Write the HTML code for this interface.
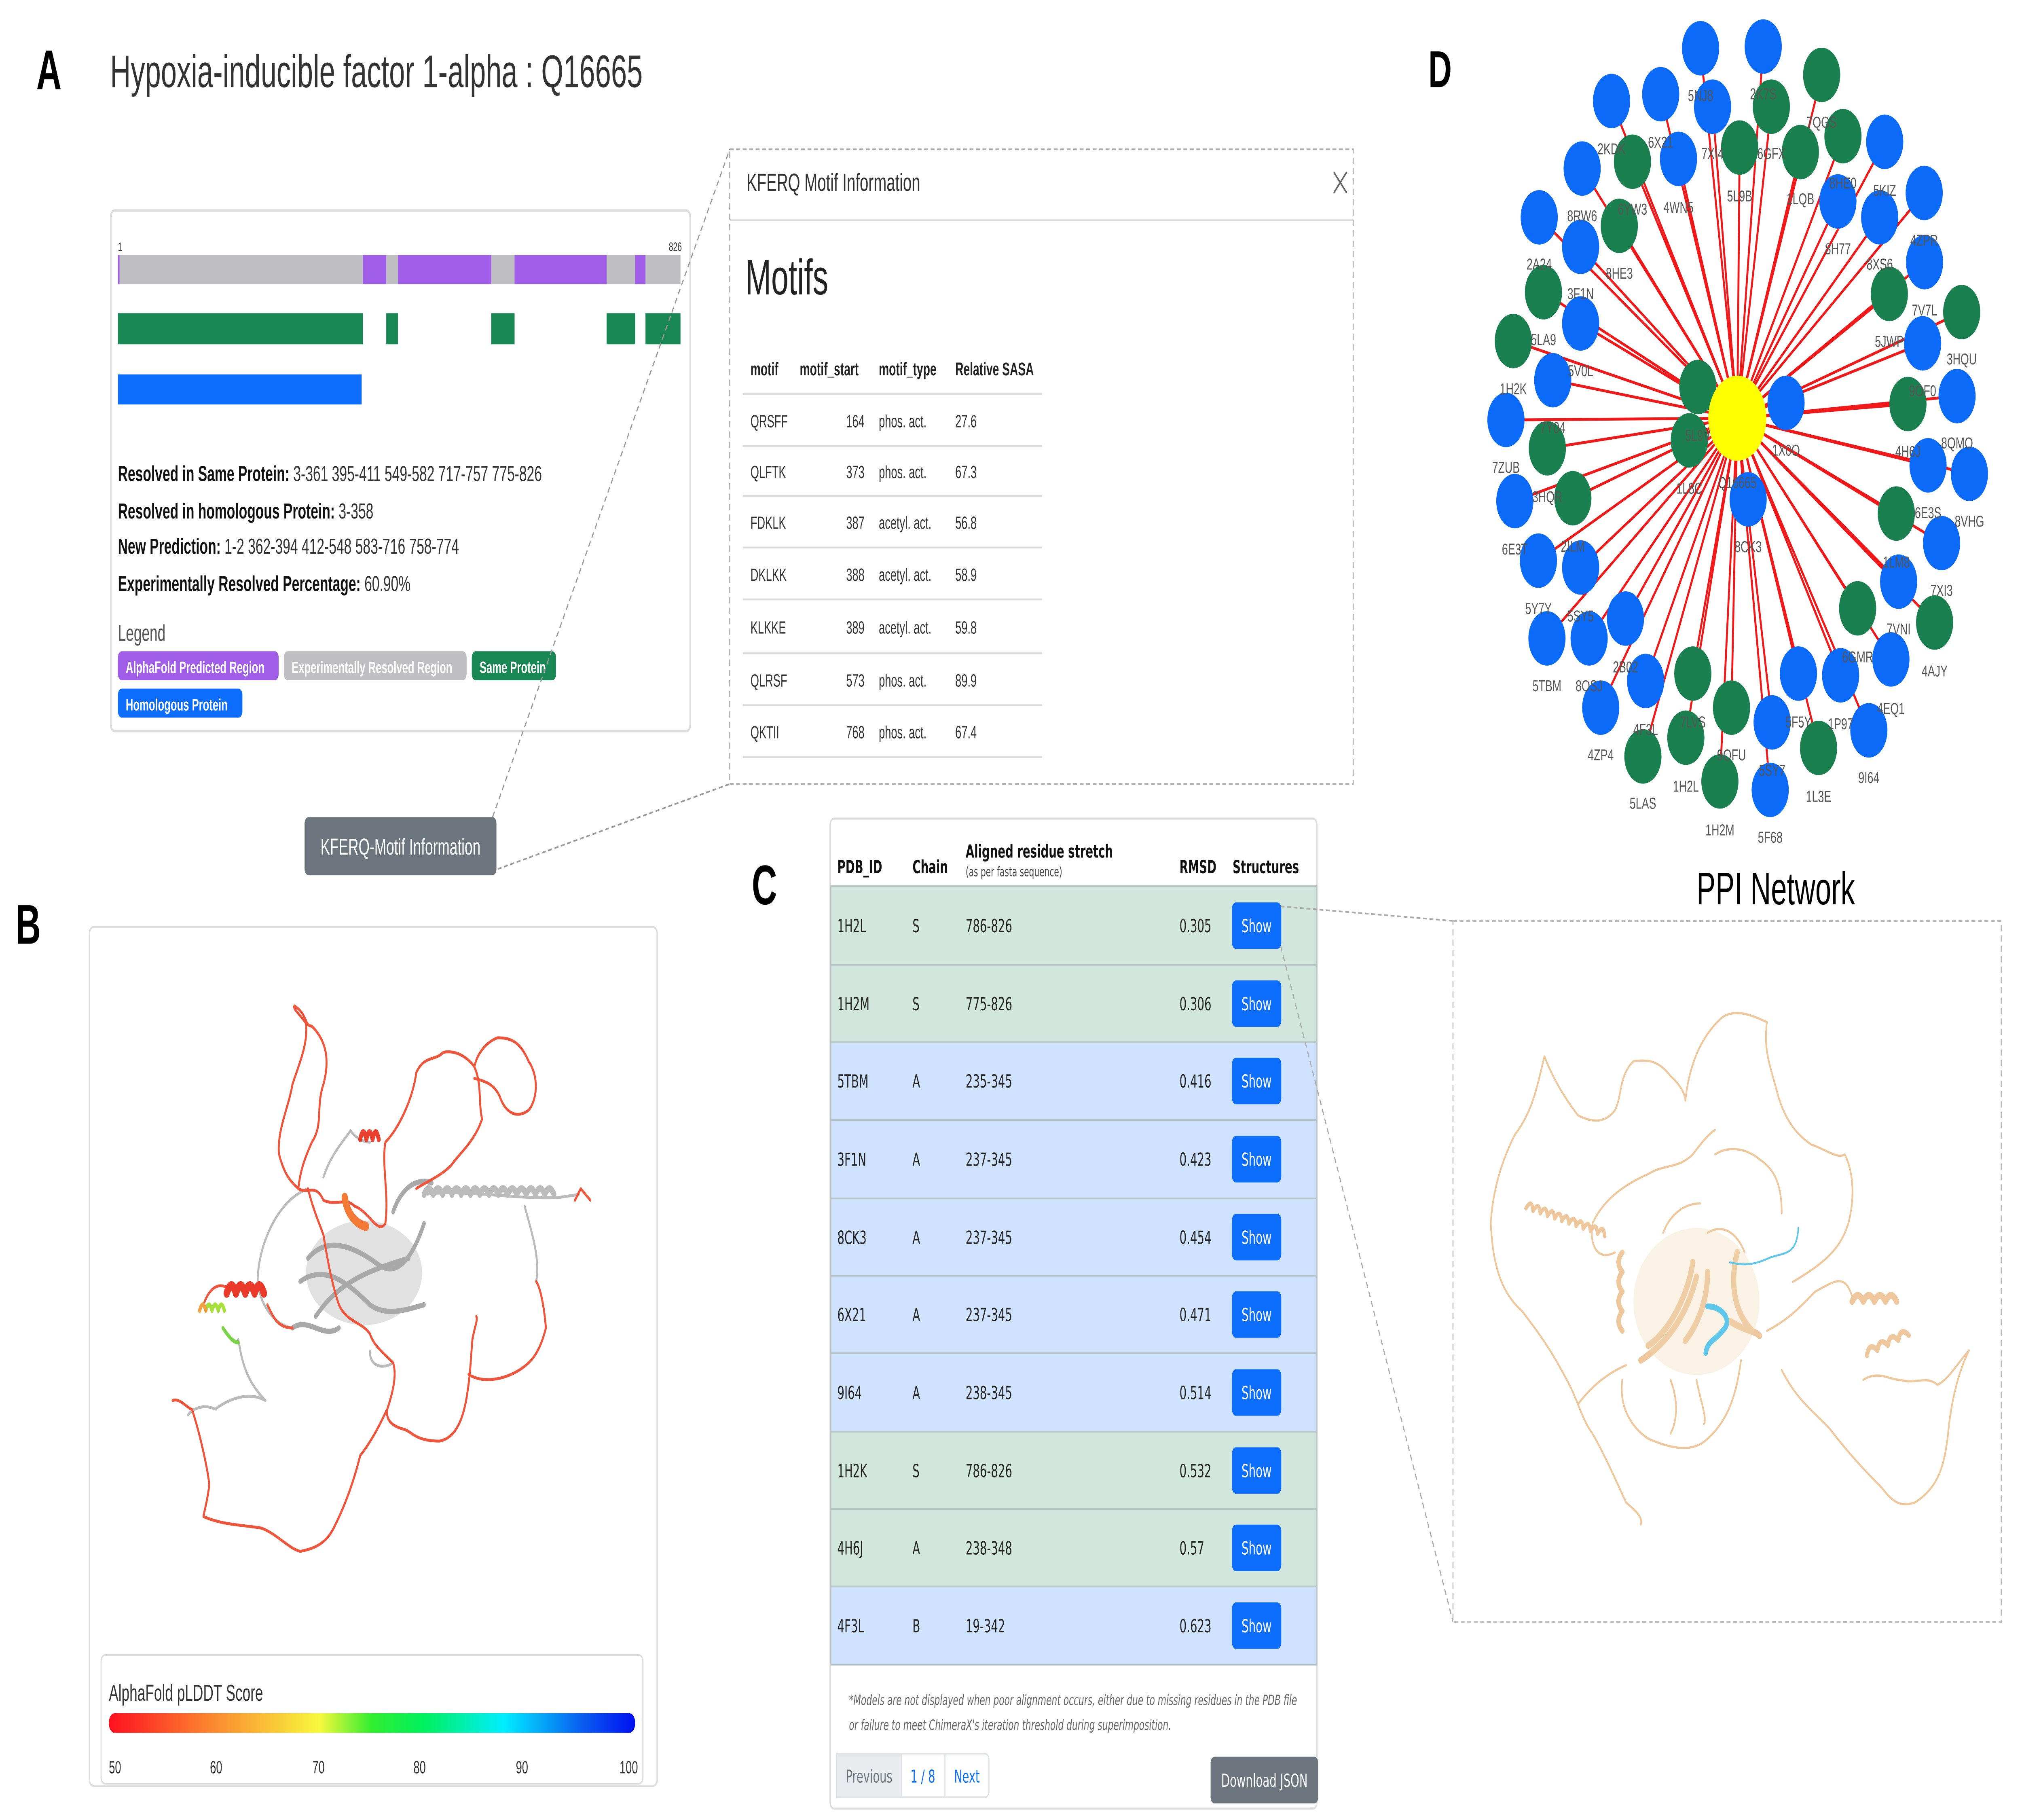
<!DOCTYPE html>
<html><head><meta charset="utf-8"><style>
html,body{margin:0;padding:0;background:#fff;width:100%;height:100%;overflow:hidden;}
svg{display:block;width:100vw;height:100vh;}
text{font-family:"Liberation Sans","DejaVu Sans",sans-serif;}
.t{font-family:"DejaVu Sans","Liberation Sans",sans-serif;}
</style></head><body>
<svg viewBox="0 0 1560 877.5" preserveAspectRatio="none" xmlns="http://www.w3.org/2000/svg">
<rect width="1560" height="877.5" fill="#fff"/>

<!-- Panel A -->
<text x="28" y="43" font-size="27" font-weight="bold" fill="#000">A</text>
<text x="85" y="42" font-size="22" fill="#333">Hypoxia-inducible factor 1-alpha : Q16665</text>
<rect x="85.5" y="101.5" width="447" height="251" rx="3" fill="#fff" stroke="#ddd" stroke-width="1.2"/>
<text x="91" y="121" font-size="6" fill="#333">1</text>
<text x="516" y="121" font-size="6" fill="#333">826</text>
<rect x="91" y="123" width="434" height="14" fill="#bfbfc3"/>
<rect x="91" y="123" width="1.2" height="14" fill="#a05de8"/>
<g fill="#a05de8"><rect x="280" y="123" width="18" height="14"/><rect x="307" y="123" width="72" height="14"/><rect x="397" y="123" width="71" height="14"/><rect x="490" y="123" width="8" height="14"/></g>
<g fill="#198754"><rect x="91" y="151" width="189" height="15"/><rect x="298" y="151" width="9" height="15"/><rect x="379" y="151" width="18" height="15"/><rect x="468" y="151" width="22" height="15"/><rect x="498" y="151" width="27" height="15"/></g>
<rect x="91" y="180.5" width="188" height="14.5" fill="#0d6efd"/>
<g font-size="10.5" fill="#333">
<text x="91" y="232"><tspan font-weight="bold" fill="#111">Resolved in Same Protein:</tspan> 3-361 395-411 549-582 717-757 775-826</text>
<text x="91" y="250"><tspan font-weight="bold" fill="#111">Resolved in homologous Protein:</tspan> 3-358</text>
<text x="91" y="267"><tspan font-weight="bold" fill="#111">New Prediction:</tspan> 1-2 362-394 412-548 583-716 758-774</text>
<text x="91" y="285"><tspan font-weight="bold" fill="#111">Experimentally Resolved Percentage:</tspan> 60.90%</text>
</g>
<text x="91" y="309" font-size="11" fill="#555">Legend</text>
<g font-size="8" font-weight="bold" fill="#fff">
<rect x="91" y="314" width="124" height="14" rx="3" fill="#a05de8"/><text x="97" y="324.5">AlphaFold Predicted Region</text>
<rect x="219" y="314" width="141" height="14" rx="3" fill="#bfbfc3"/><text x="225" y="324.5">Experimentally Resolved Region</text>
<rect x="364" y="314" width="65" height="14" rx="3" fill="#198754"/><text x="370" y="324.5">Same Protein</text>
<rect x="91" y="332" width="96" height="14" rx="3" fill="#0d6efd"/><text x="97" y="342.5">Homologous Protein</text>
</g>

<!-- modal -->
<rect x="563" y="72" width="481" height="306" fill="#fff" stroke="#aaa" stroke-width="0.8" stroke-dasharray="3,2"/>
<text x="576" y="92" font-size="12" fill="#333">KFERQ Motif Information</text>
<path d="M1029 83 L1039 93 M1039 83 L1029 93" stroke="#666" stroke-width="1"/>
<line x1="563" y1="106" x2="1044" y2="106" stroke="#ddd" stroke-width="1"/>
<text x="575" y="142" font-size="24" fill="#222">Motifs</text>
<g font-size="8.8" fill="#222" font-weight="bold">
<text x="579" y="181">motif</text><text x="617" y="181">motif_start</text><text x="678" y="181">motif_type</text><text x="737" y="181">Relative SASA</text>
</g>
<g stroke="#ddd" stroke-width="0.9">
<line x1="573" y1="190" x2="804" y2="190"/><line x1="573" y1="215" x2="804" y2="215"/><line x1="573" y1="239" x2="804" y2="239"/><line x1="573" y1="264" x2="804" y2="264"/><line x1="573" y1="289" x2="804" y2="289"/><line x1="573" y1="315" x2="804" y2="315"/><line x1="573" y1="340" x2="804" y2="340"/><line x1="573" y1="365" x2="804" y2="365"/>
</g>
<g font-size="8.5" fill="#333">
<text x="579" y="206">QRSFF</text><text x="667" y="206" text-anchor="end">164</text><text x="678" y="206">phos. act.</text><text x="737" y="206">27.6</text>
<text x="579" y="230.5">QLFTK</text><text x="667" y="230.5" text-anchor="end">373</text><text x="678" y="230.5">phos. act.</text><text x="737" y="230.5">67.3</text>
<text x="579" y="255">FDKLK</text><text x="667" y="255" text-anchor="end">387</text><text x="678" y="255">acetyl. act.</text><text x="737" y="255">56.8</text>
<text x="579" y="280">DKLKK</text><text x="667" y="280" text-anchor="end">388</text><text x="678" y="280">acetyl. act.</text><text x="737" y="280">58.9</text>
<text x="579" y="305.5">KLKKE</text><text x="667" y="305.5" text-anchor="end">389</text><text x="678" y="305.5">acetyl. act.</text><text x="737" y="305.5">59.8</text>
<text x="579" y="331">QLRSF</text><text x="667" y="331" text-anchor="end">573</text><text x="678" y="331">phos. act.</text><text x="737" y="331">89.9</text>
<text x="579" y="356">QKTII</text><text x="667" y="356" text-anchor="end">768</text><text x="678" y="356">phos. act.</text><text x="737" y="356">67.4</text>
</g>
<g stroke="#999" stroke-width="0.8" stroke-dasharray="3,2" fill="none">
<line x1="380" y1="394" x2="563" y2="72"/><line x1="384" y1="419" x2="563" y2="378"/>
</g>
<rect x="235" y="394" width="148" height="28" rx="3" fill="#6c757d"/>
<text x="309" y="412" font-size="11" fill="#fff" text-anchor="middle">KFERQ-Motif Information</text>

<!-- Panel B -->
<text x="12" y="455" font-size="27" font-weight="bold" fill="#000">B</text>
<rect x="69" y="447" width="438" height="414" rx="3" fill="#fff" stroke="#ddd" stroke-width="1"/>
<g transform="translate(58.5,438.8) scale(0.2985,0.2798)" fill="none" stroke-linejoin="round" stroke-linecap="round">
<g stroke="#bbb" stroke-width="5">
<path d="M600 480 C520 500 470 580 470 640 C480 700 540 720 560 720"/>
<path d="M640 460 C660 420 690 400 710 380 C720 390 740 400 760 400"/>
<path d="M900 490 C1000 480 1150 500 1250 495 L1300 490"/>
<path d="M1160 510 C1180 560 1200 600 1190 640"/>
<path d="M420 740 C430 780 440 810 490 845 M490 845 C450 830 400 840 360 860 C330 850 300 860 290 870"/>
<path d="M760 760 C760 790 800 790 820 780"/>
</g>
<path d="M900 490 q12 -20 24 0 q12 -20 24 0 q12 -20 24 0 q12 -20 24 0 q12 -20 24 0 q12 -20 24 0 q12 -20 24 0 q12 -20 24 0 q12 -20 24 0 q12 -20 24 0 q12 -20 24 0 q12 -20 24 0 q12 -20 24 0 q12 -20 24 0" stroke="#bbb" stroke-width="12"/>
<ellipse cx="745" cy="625" rx="150" ry="90" fill="#c8c8c8" opacity="0.55" stroke="none"/>
<path d="M600 600 C650 560 720 580 780 610 C840 640 880 580 900 540 M620 700 C680 640 760 620 860 600 M580 640 C640 610 700 640 760 680 C800 700 850 690 900 680 M820 520 C840 480 880 460 920 470 M560 720 C600 700 640 740 680 720" stroke="#a9a9a9" stroke-width="9"/>
<g stroke="#f0553b" stroke-width="5">
<path d="M565 165 C600 180 590 200 610 200 C640 220 660 250 640 300 C620 340 640 370 610 400 C590 430 580 450 575 480 C560 470 540 460 525 420 C520 380 550 340 560 300 C580 260 600 230 595 195 C580 180 560 170 565 165"/>
<path d="M575 480 C600 490 620 470 640 500 C670 510 700 495 720 510 C760 520 780 560 800 540 C810 490 790 440 800 400 C830 380 870 330 880 280 C900 250 930 260 950 245 C990 240 1020 260 1030 270 C1050 300 1040 330 1050 360 C1030 400 990 420 970 440 C940 460 900 470 880 480"/>
<path d="M1030 270 C1040 240 1070 225 1090 220 C1130 220 1150 230 1170 260 C1200 290 1190 330 1170 345 C1140 360 1110 350 1095 320 C1080 300 1060 295 1030 290"/>
<path d="M250 845 C270 840 290 860 300 860 C320 900 340 960 345 990 C340 1020 330 1040 330 1045 C380 1060 440 1060 480 1065 C520 1075 550 1100 580 1105 C620 1100 650 1090 670 1060 C700 1020 720 980 735 940 C770 910 790 880 805 860 C820 830 830 800 820 780 C790 760 770 750 760 730 C740 710 700 710 680 680 C660 640 650 600 640 560 C630 540 615 520 600 480"/>
<path d="M805 860 C800 880 820 890 850 895 C870 900 880 915 940 915 C980 910 1000 880 1010 840 C1020 800 1020 780 1025 740 C1030 720 1040 705 1035 700"/>
<path d="M1015 800 C1050 815 1100 810 1140 795 C1180 780 1200 760 1215 720 C1210 680 1200 650 1190 640"/>
<path d="M330 680 C340 660 360 640 390 650 M495 680 C510 700 520 720 560 720"/>
<path d="M1290 500 L1305 480 L1330 500"/>
</g>
<path d="M390 660 q12 -25 24 0 q12 -25 24 0 q12 -25 24 0 q12 -25 24 0" stroke="#ea3a2a" stroke-width="16"/>
<path d="M735 395 q8 -25 16 0 q8 -25 16 0 q8 -25 16 0" stroke="#ea4030" stroke-width="10"/>
<path d="M695 495 C700 520 720 540 750 545" stroke="#f27a34" stroke-width="16"/>
<path d="M320 690 q8 -20 16 0 q8 -20 16 0 q8 -20 16 0 q8 -20 16 0" stroke="#a6e03a" stroke-width="8"/>
<path d="M320 690 q8 -20 16 0" stroke="#f2a040" stroke-width="8"/>
<path d="M380 720 C400 740 410 745 420 745" stroke="#7bd34a" stroke-width="7"/>
</g>
<rect x="78" y="798" width="418" height="62" rx="3" fill="#fff" stroke="#ddd" stroke-width="0.9"/>
<text x="84" y="820" font-size="11" fill="#333">AlphaFold pLDDT Score</text>
<defs>
<linearGradient id="pl" x1="0" x2="1" y1="0" y2="0">
<stop offset="0" stop-color="#ff1020"/><stop offset="0.2" stop-color="#fb8a30"/><stop offset="0.4" stop-color="#f8f83c"/><stop offset="0.5" stop-color="#30ee30"/><stop offset="0.6" stop-color="#00f060"/><stop offset="0.75" stop-color="#00eeff"/><stop offset="0.9" stop-color="#0a5cf0"/><stop offset="1" stop-color="#0010f0"/>
</linearGradient>
</defs>
<rect x="84" y="826" width="406" height="9.5" rx="4.5" fill="url(#pl)"/>
<g font-size="8.5" fill="#333">
<text x="84" y="855">50</text><text x="162" y="855">60</text><text x="241" y="855">70</text><text x="319" y="855">80</text><text x="398" y="855">90</text><text x="478" y="855">100</text>
</g>

<!-- Panel C -->
<text x="580" y="436" font-size="27" font-weight="bold" fill="#000">C</text>
<rect x="640.5" y="394.7" width="375.5" height="477.3" rx="3" fill="#fff" stroke="#ddd" stroke-width="1"/>
<g class="t" font-size="8.6" font-weight="bold" fill="#111">
<text class="t" x="646" y="421">PDB_ID</text><text class="t" x="704" y="421">Chain</text><text class="t" x="745" y="413.5">Aligned residue stretch</text><text class="t" x="910" y="421">RMSD</text><text class="t" x="951" y="421">Structures</text>
</g>
<text class="t" x="745" y="422.5" font-size="6.3" fill="#444">(as per fasta sequence)</text>
<g stroke="#b8c4c8" stroke-width="0.8">
<rect x="641" y="427.3" width="375" height="37.9" fill="#d1e7dd"/>
<rect x="641" y="465.2" width="375" height="37.3" fill="#d1e7dd"/>
<rect x="641" y="502.5" width="375" height="37.4" fill="#cfe2ff"/>
<rect x="641" y="539.9" width="375" height="37.9" fill="#cfe2ff"/>
<rect x="641" y="577.8" width="375" height="37.3" fill="#cfe2ff"/>
<rect x="641" y="615.1" width="375" height="37.3" fill="#cfe2ff"/>
<rect x="641" y="652.4" width="375" height="37.9" fill="#cfe2ff"/>
<rect x="641" y="690.3" width="375" height="37.3" fill="#d1e7dd"/>
<rect x="641" y="727.6" width="375" height="37.3" fill="#d1e7dd"/>
<rect x="641" y="764.9" width="375" height="37.7" fill="#cfe2ff"/>
</g>
<g fill="#0d6efd">
<rect x="950.5" y="435.1" width="38" height="22.4" rx="3"/><rect x="950.5" y="472.7" width="38" height="22.4" rx="3"/><rect x="950.5" y="510" width="38" height="22.4" rx="3"/><rect x="950.5" y="547.7" width="38" height="22.4" rx="3"/><rect x="950.5" y="585.3" width="38" height="22.4" rx="3"/><rect x="950.5" y="622.6" width="38" height="22.4" rx="3"/><rect x="950.5" y="660.2" width="38" height="22.4" rx="3"/><rect x="950.5" y="697.8" width="38" height="22.4" rx="3"/><rect x="950.5" y="735.1" width="38" height="22.4" rx="3"/><rect x="950.5" y="772.6" width="38" height="22.4" rx="3"/>
</g>
<g class="t" font-size="8.6" fill="#222">
<text class="t" x="646" y="449.5">1H2L</text><text class="t" x="704" y="449.5">S</text><text class="t" x="745" y="449.5">786-826</text><text class="t" x="910" y="449.5">0.305</text>
<text class="t" x="646" y="487.1">1H2M</text><text class="t" x="704" y="487.1">S</text><text class="t" x="745" y="487.1">775-826</text><text class="t" x="910" y="487.1">0.306</text>
<text class="t" x="646" y="524.4">5TBM</text><text class="t" x="704" y="524.4">A</text><text class="t" x="745" y="524.4">235-345</text><text class="t" x="910" y="524.4">0.416</text>
<text class="t" x="646" y="562.1">3F1N</text><text class="t" x="704" y="562.1">A</text><text class="t" x="745" y="562.1">237-345</text><text class="t" x="910" y="562.1">0.423</text>
<text class="t" x="646" y="599.7">8CK3</text><text class="t" x="704" y="599.7">A</text><text class="t" x="745" y="599.7">237-345</text><text class="t" x="910" y="599.7">0.454</text>
<text class="t" x="646" y="637">6X21</text><text class="t" x="704" y="637">A</text><text class="t" x="745" y="637">237-345</text><text class="t" x="910" y="637">0.471</text>
<text class="t" x="646" y="674.6">9I64</text><text class="t" x="704" y="674.6">A</text><text class="t" x="745" y="674.6">238-345</text><text class="t" x="910" y="674.6">0.514</text>
<text class="t" x="646" y="712.2">1H2K</text><text class="t" x="704" y="712.2">S</text><text class="t" x="745" y="712.2">786-826</text><text class="t" x="910" y="712.2">0.532</text>
<text class="t" x="646" y="749.5">4H6J</text><text class="t" x="704" y="749.5">A</text><text class="t" x="745" y="749.5">238-348</text><text class="t" x="910" y="749.5">0.57</text>
<text class="t" x="646" y="787">4F3L</text><text class="t" x="704" y="787">B</text><text class="t" x="745" y="787">19-342</text><text class="t" x="910" y="787">0.623</text>
</g>
<g class="t" font-size="8.6" fill="#fff" text-anchor="middle">
<text class="t" x="969.5" y="449.5">Show</text><text class="t" x="969.5" y="487.1">Show</text><text class="t" x="969.5" y="524.4">Show</text><text class="t" x="969.5" y="562.1">Show</text><text class="t" x="969.5" y="599.7">Show</text><text class="t" x="969.5" y="637">Show</text><text class="t" x="969.5" y="674.6">Show</text><text class="t" x="969.5" y="712.2">Show</text><text class="t" x="969.5" y="749.5">Show</text><text class="t" x="969.5" y="787">Show</text>
</g>
<g class="t" font-size="6.8" fill="#666" font-style="italic">
<text class="t" x="655" y="822">*Models are not displayed when poor alignment occurs, either due to missing residues in the PDB file</text>
<text class="t" x="655" y="834">or failure to meet ChimeraX's iteration threshold during superimposition.</text>
</g>
<rect x="645.5" y="845.5" width="117.5" height="21" rx="3" fill="#fff" stroke="#dee2e6" stroke-width="0.8"/>
<rect x="645.5" y="845.5" width="50" height="21" fill="#e9ecef" stroke="#dee2e6" stroke-width="0.8"/>
<line x1="729" y1="845.5" x2="729" y2="866.5" stroke="#dee2e6" stroke-width="0.8"/>
<g class="t" font-size="8.5">
<text class="t" x="670.5" y="859.5" text-anchor="middle" fill="#6c757d">Previous</text>
<text class="t" x="712" y="859.5" text-anchor="middle" fill="#0d6efd">1 / 8</text>
<text class="t" x="746" y="859.5" text-anchor="middle" fill="#0d6efd">Next</text>
</g>
<rect x="934" y="847" width="83" height="22.5" rx="3" fill="#6c757d"/>
<text class="t" x="975.5" y="861.5" font-size="8.6" fill="#fff" text-anchor="middle">Download JSON</text>
<g stroke="#aaa" stroke-width="0.8" stroke-dasharray="3,2" fill="none">
<line x1="988" y1="437" x2="1121" y2="444"/><line x1="988" y1="456" x2="1121" y2="782"/>
</g>

<!-- right structure -->
<rect x="1121" y="444" width="423" height="338" fill="#fff" stroke="#bbb" stroke-width="0.8" stroke-dasharray="3,2"/>
<g transform="translate(1111.5,429) scale(0.286,0.2363)" fill="none" stroke-linejoin="round" stroke-linecap="round">
<g stroke="#eec89c" stroke-width="4.5">
<path d="M280 340 C300 380 330 420 370 460 C420 480 450 470 470 450 C490 420 480 380 520 350 C560 345 590 350 620 380 C650 400 660 420 660 430"/>
<path d="M280 340 C260 400 250 450 200 500 C160 560 140 620 135 680 C140 760 160 820 220 860 C260 900 300 940 340 1000 C370 1040 380 1080 410 1110 C440 1150 470 1200 500 1250 C530 1270 545 1280 540 1295"/>
<path d="M660 430 C670 360 700 300 760 260 C800 240 850 260 880 270 C870 330 890 360 910 420 C930 470 960 500 1000 520 C1040 530 1070 550 1090 540 C1110 570 1120 620 1100 680 C1080 730 1040 760 950 800"/>
<path d="M920 980 C960 1040 1000 1060 1050 1100 C1100 1150 1150 1190 1190 1220 C1220 1250 1240 1260 1280 1250 C1340 1220 1360 1180 1370 1100 C1380 1030 1400 980 1425 940"/>
<path d="M1140 1000 C1180 980 1210 1000 1240 1000 C1280 1010 1310 990 1340 1010 C1370 1000 1400 960 1425 940"/>
<path d="M370 1050 C400 1020 440 990 500 970 M490 1000 C480 1060 520 1100 560 1120 C620 1140 680 1150 720 1120 C780 1080 800 1020 810 960"/>
<path d="M470 740 C420 760 400 720 410 680 C440 630 500 600 560 580 C600 560 640 570 680 540 C700 520 720 500 740 490"/>
<path d="M740 540 C780 520 830 530 860 550 C900 570 920 600 920 660"/>
<path d="M600 700 C620 660 660 640 700 640 M720 700 C760 680 800 700 820 740 M880 900 C930 880 960 860 1010 820 C1060 800 1090 780 1110 830"/>
<path d="M620 1000 C640 1040 640 1080 620 1110 M690 1000 C700 1040 720 1080 710 1090"/>
</g>
<path d="M230 650 q10 -25 20 0 q10 -25 20 0 q10 -25 20 0 q10 -25 20 0 q10 -25 20 0 q10 -25 20 0 q10 -25 20 0 q10 -25 20 0 q10 -25 20 0 q10 -25 20 0 q10 -25 20 0" stroke="#eec89c" stroke-width="9" transform="rotate(15 230 650)"/>
<path d="M1110 840 q15 -25 30 0 q15 -25 30 0 q15 -25 30 0 q15 -25 30 0" stroke="#eec89c" stroke-width="14"/>
<path d="M1150 950 q15 -25 30 0 q15 -25 30 0 q15 -25 30 0 q15 -25 30 0" stroke="#eec89c" stroke-width="11" transform="rotate(-20 1150 950)"/>
<path d="M490 740 q-20 20 0 40 q-20 20 0 40 q-20 20 0 40 q-20 20 0 40" stroke="#eec89c" stroke-width="12"/>
<path d="M540 960 C600 930 660 880 690 790 M560 930 C620 900 670 820 680 760 M660 920 C700 880 720 830 720 780 M780 880 C820 900 850 900 860 910 M800 740 C780 800 790 860 840 900" stroke="#eec89c" stroke-width="14"/>
<ellipse cx="690" cy="840" rx="170" ry="150" fill="#f4d9b6" opacity="0.35" stroke="none"/>
<path d="M780 760 C830 770 860 760 890 750 C930 740 960 745 965 690" stroke="#5ec7ea" stroke-width="4"/>
<path d="M720 850 C760 850 790 880 760 900 C740 920 720 920 715 945" stroke="#5ec7ea" stroke-width="12"/>
</g>

<!-- Panel D -->
<text x="1102" y="42" font-size="25" font-weight="bold" fill="#000">D</text>
<g transform="translate(1092,0) scale(0.2985,0.2736)">
<g stroke="#f01818" stroke-width="5">
<line x1="832" y1="737" x2="737" y2="85"/><line x1="832" y1="737" x2="899" y2="82"/><line x1="832" y1="737" x2="1050" y2="132"/><line x1="832" y1="737" x2="507" y2="178"/><line x1="832" y1="737" x2="634" y2="166"/><line x1="832" y1="737" x2="768" y2="188"/><line x1="832" y1="737" x2="920" y2="188"/><line x1="832" y1="737" x2="1105" y2="240"/><line x1="832" y1="737" x2="1213" y2="250"/><line x1="832" y1="737" x2="561" y2="285"/><line x1="832" y1="737" x2="680" y2="280"/><line x1="832" y1="737" x2="838" y2="260"/><line x1="832" y1="737" x2="995" y2="268"/><line x1="832" y1="737" x2="1315" y2="340"/><line x1="832" y1="737" x2="431" y2="297"/><line x1="832" y1="737" x2="320" y2="383"/><line x1="832" y1="737" x2="527" y2="398"/><line x1="832" y1="737" x2="1092" y2="355"/><line x1="832" y1="737" x2="1200" y2="383"/><line x1="832" y1="737" x2="427" y2="435"/><line x1="832" y1="737" x2="1316" y2="462"/><line x1="832" y1="737" x2="331" y2="515"/><line x1="832" y1="737" x2="427" y2="570"/><line x1="832" y1="737" x2="1225" y2="518"/><line x1="832" y1="737" x2="1412" y2="550"/><line x1="832" y1="737" x2="253" y2="601"/><line x1="832" y1="737" x2="355" y2="670"/><line x1="832" y1="737" x2="1311" y2="605"/><line x1="832" y1="737" x2="234" y2="740"/><line x1="832" y1="737" x2="1273" y2="712"/><line x1="832" y1="737" x2="1400" y2="698"/><line x1="832" y1="737" x2="341" y2="790"/><line x1="832" y1="737" x2="1325" y2="820"/><line x1="832" y1="737" x2="1432" y2="835"/><line x1="832" y1="737" x2="257" y2="883"/><line x1="832" y1="737" x2="407" y2="878"/><line x1="832" y1="737" x2="1243" y2="905"/><line x1="832" y1="737" x2="1360" y2="957"/><line x1="832" y1="737" x2="318" y2="988"/><line x1="832" y1="737" x2="427" y2="1000"/><line x1="832" y1="737" x2="1249" y2="1025"/><line x1="832" y1="737" x2="543" y2="1090"/><line x1="832" y1="737" x2="1143" y2="1072"/><line x1="832" y1="737" x2="1342" y2="1097"/><line x1="832" y1="737" x2="340" y2="1125"/><line x1="832" y1="737" x2="449" y2="1125"/><line x1="832" y1="737" x2="595" y2="1200"/><line x1="832" y1="737" x2="990" y2="1187"/><line x1="832" y1="737" x2="1099" y2="1190"/><line x1="832" y1="737" x2="1229" y2="1162"/><line x1="832" y1="737" x2="717" y2="1187"/><line x1="832" y1="737" x2="817" y2="1247"/><line x1="832" y1="737" x2="922" y2="1273"/><line x1="832" y1="737" x2="479" y2="1247"/><line x1="832" y1="737" x2="1172" y2="1287"/><line x1="832" y1="737" x2="1042" y2="1318"/><line x1="832" y1="737" x2="699" y2="1300"/><line x1="832" y1="737" x2="588" y2="1333"/><line x1="832" y1="737" x2="787" y2="1377"/><line x1="832" y1="737" x2="917" y2="1392"/>
</g>
<g fill="#0b6af7">
<circle cx="737" cy="85" r="48"/><circle cx="899" cy="82" r="48"/><circle cx="507" cy="178" r="48"/><circle cx="634" cy="166" r="48"/><circle cx="768" cy="188" r="48"/><circle cx="1213" cy="250" r="48"/><circle cx="680" cy="280" r="48"/><circle cx="1315" cy="340" r="48"/><circle cx="431" cy="297" r="48"/><circle cx="320" cy="383" r="48"/><circle cx="1092" cy="355" r="48"/><circle cx="1200" cy="383" r="48"/><circle cx="427" cy="435" r="48"/><circle cx="1316" cy="462" r="48"/><circle cx="427" cy="570" r="48"/><circle cx="355" cy="670" r="48"/><circle cx="1311" cy="605" r="48"/><circle cx="234" cy="740" r="48"/><circle cx="1400" cy="698" r="48"/><circle cx="958" cy="710" r="48"/><circle cx="1325" cy="820" r="48"/><circle cx="1432" cy="835" r="48"/><circle cx="257" cy="883" r="48"/><circle cx="860" cy="880" r="48"/><circle cx="1360" cy="957" r="48"/><circle cx="318" cy="988" r="48"/><circle cx="427" cy="1000" r="48"/><circle cx="1249" cy="1025" r="48"/><circle cx="543" cy="1090" r="48"/><circle cx="340" cy="1125" r="48"/><circle cx="449" cy="1125" r="48"/><circle cx="595" cy="1200" r="48"/><circle cx="990" cy="1187" r="48"/><circle cx="1099" cy="1190" r="48"/><circle cx="1229" cy="1162" r="48"/><circle cx="922" cy="1273" r="48"/><circle cx="479" cy="1247" r="48"/><circle cx="1172" cy="1287" r="48"/><circle cx="917" cy="1392" r="48"/>
</g>
<g fill="#1b8050">
<circle cx="1050" cy="132" r="48"/><circle cx="920" cy="188" r="48"/><circle cx="1105" cy="240" r="48"/><circle cx="561" cy="285" r="48"/><circle cx="838" cy="260" r="48"/><circle cx="995" cy="268" r="48"/><circle cx="527" cy="398" r="48"/><circle cx="331" cy="515" r="48"/><circle cx="1225" cy="518" r="48"/><circle cx="1412" cy="550" r="48"/><circle cx="253" cy="601" r="48"/><circle cx="730" cy="682" r="48"/><circle cx="1273" cy="712" r="48"/><circle cx="341" cy="790" r="48"/><circle cx="708" cy="776" r="48"/><circle cx="407" cy="878" r="48"/><circle cx="1243" cy="905" r="48"/><circle cx="1143" cy="1072" r="48"/><circle cx="1342" cy="1097" r="48"/><circle cx="717" cy="1187" r="48"/><circle cx="817" cy="1247" r="48"/><circle cx="1042" cy="1318" r="48"/><circle cx="699" cy="1300" r="48"/><circle cx="588" cy="1333" r="48"/><circle cx="787" cy="1377" r="48"/>
</g>
<circle cx="832" cy="737" r="75" fill="#ffff00"/>
<g font-size="28" fill="#555" text-anchor="middle">
<text x="737" y="178">5NJ8</text><text x="899" y="175">2K7S</text><text x="1050" y="225">7QGS</text><text x="507" y="272">2KDK</text><text x="634" y="260">6X21</text><text x="768" y="280">7XI4</text><text x="920" y="280">6GFX</text><text x="838" y="355">5L9B</text><text x="995" y="360">1LQB</text><text x="1105" y="332">8HE0</text><text x="1213" y="345">5KIZ</text><text x="680" y="375">4WN5</text><text x="561" y="378">6YW3</text><text x="431" y="390">8RW6</text><text x="1092" y="448">8H77</text><text x="1200" y="475">8XS6</text><text x="1315" y="433">4ZPR</text><text x="320" y="475">2A24</text><text x="527" y="491">8HE3</text><text x="427" y="527">3F1N</text><text x="1316" y="556">7V7L</text><text x="331" y="608">5LA9</text><text x="1225" y="611">5JWP</text><text x="1412" y="642">3HQU</text><text x="427" y="663">5V0L</text><text x="253" y="695">1H2K</text><text x="1311" y="698">9OF0</text><text x="355" y="763">7Y04</text><text x="1400" y="790">8QMO</text><text x="234" y="833">7ZUB</text><text x="730" y="777">5L9V</text><text x="958" y="803">1X0O</text><text x="1273" y="805">4H6J</text><text x="708" y="870">1L8C</text><text x="832" y="860">Q16665</text><text x="1325" y="913">6E3S</text><text x="1432" y="928">8VHG</text><text x="341" y="885">3HQR</text><text x="860" y="973">8CK3</text><text x="257" y="977">6E3T</text><text x="407" y="972">2ILM</text><text x="1243" y="1000">1LM8</text><text x="1360" y="1050">7XI3</text><text x="318" y="1082">5Y7Y</text><text x="427" y="1095">5SY5</text><text x="1249" y="1118">7VNI</text><text x="543" y="1185">2B02</text><text x="1143" y="1167">6GMR</text><text x="1342" y="1192">4AJY</text><text x="340" y="1218">5TBM</text><text x="449" y="1218">8OSJ</text><text x="1229" y="1258">4EQ1</text><text x="990" y="1282">5F5Y</text><text x="1099" y="1285">1P97</text><text x="595" y="1295">4F3L</text><text x="717" y="1282">7LVS</text><text x="817" y="1340">9OFU</text><text x="479" y="1340">4ZP4</text><text x="1172" y="1380">9I64</text><text x="922" y="1367">5SY7</text><text x="1042" y="1413">1L3E</text><text x="699" y="1395">1H2L</text><text x="588" y="1425">5LAS</text><text x="787" y="1472">1H2M</text><text x="917" y="1485">5F68</text>
</g>
</g>
<text x="1370" y="436" font-size="22" fill="#000" text-anchor="middle">PPI Network</text>
</svg>
</body></html>
